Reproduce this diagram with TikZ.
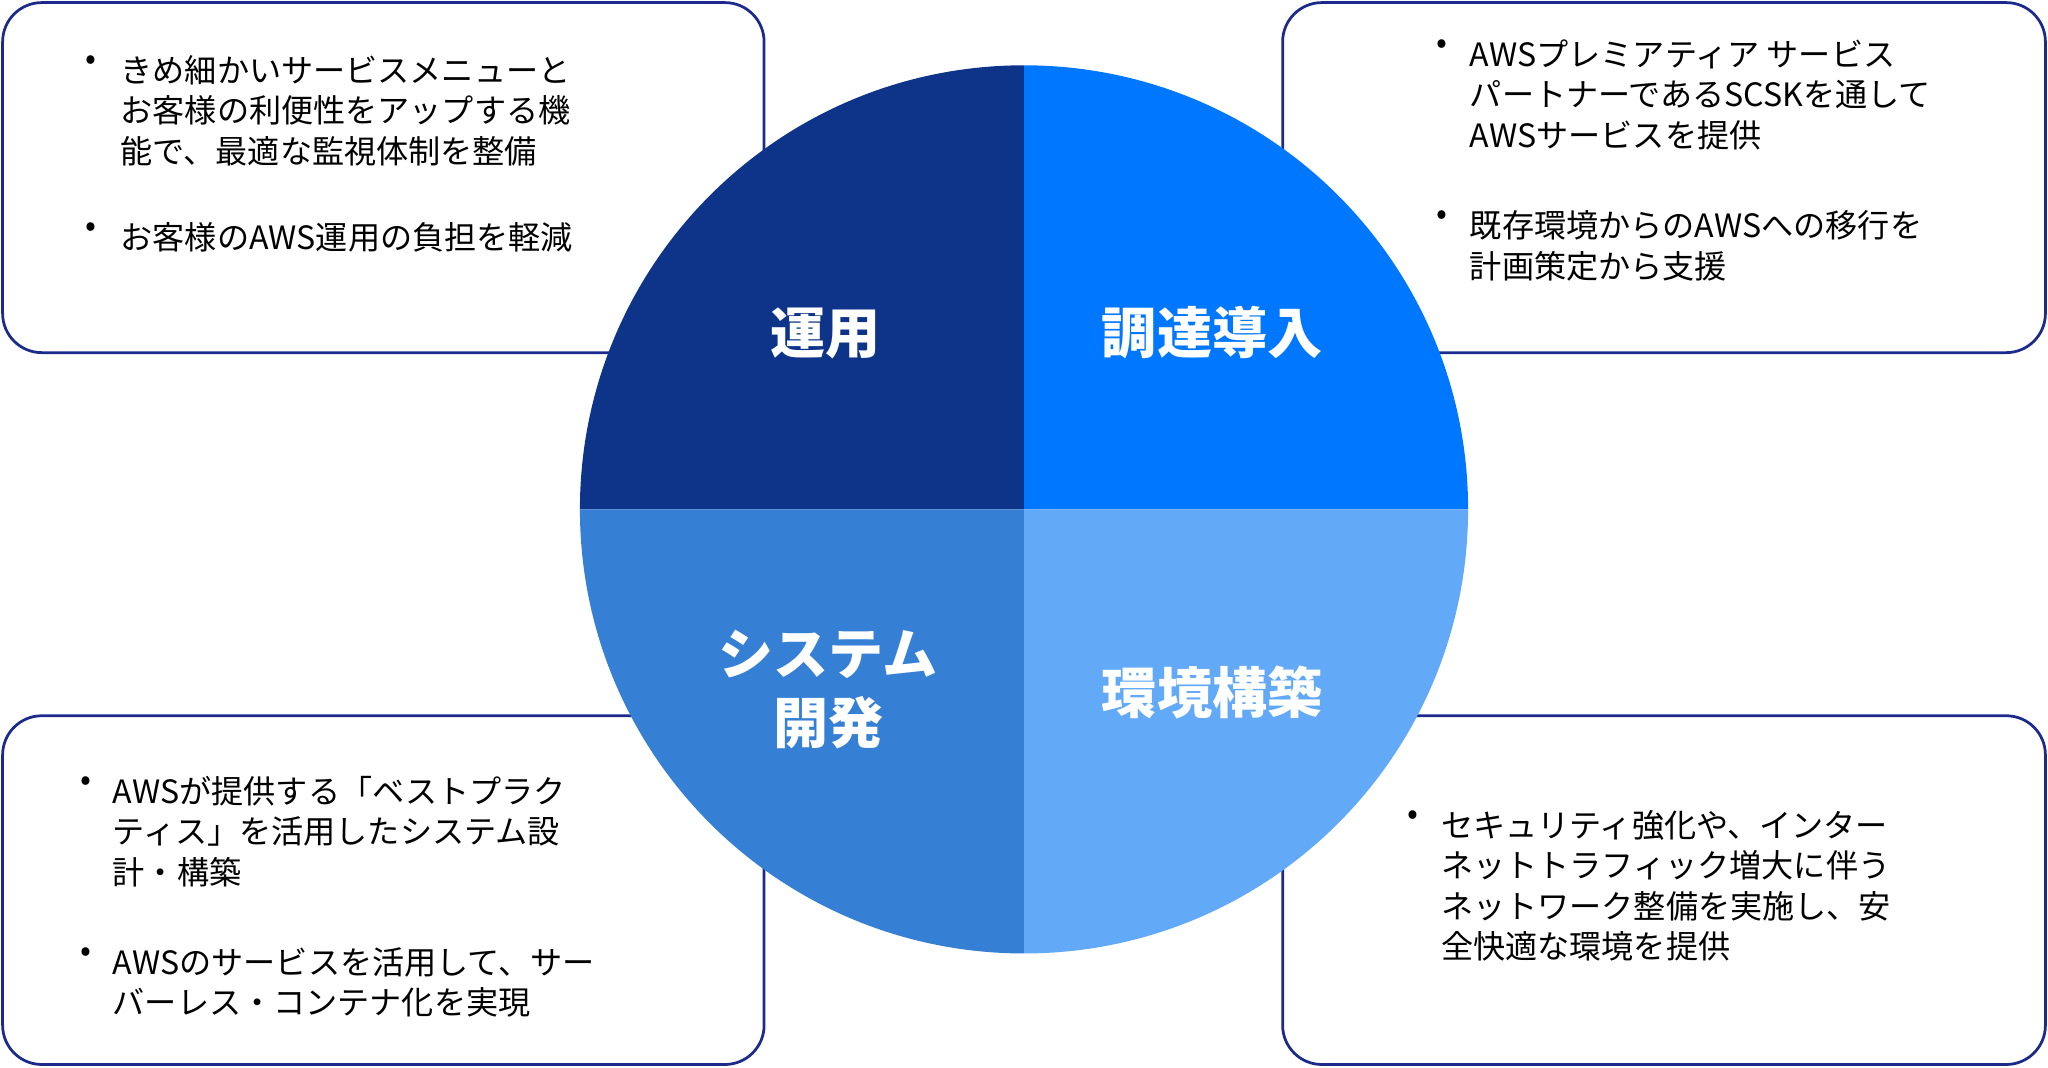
\documentclass[tikz,border=0pt]{standalone}
\usepackage{fontspec}
\setmainfont{Noto Sans CJK JP}
\usetikzlibrary{positioning}
\definecolor{CNavy}{HTML}{1C2A8C}
\definecolor{CUnyo}{HTML}{0D3488}
\definecolor{CChotatsu}{HTML}{0077FF}
\definecolor{CSystem}{HTML}{3580D4}
\definecolor{CKankyo}{HTML}{62A9F7}
\tikzset{
    infobox/.style={draw=CNavy, line width=1.2pt, fill=white, rounded corners=0.6cm},
    item/.style={anchor=north west, align=left, inner sep=0pt, font=\fontsize{14}{17.6}\selectfont},
    dot/.style={anchor=north, inner sep=0pt, font=\fontsize{14}{17.6}\selectfont},
    quad/.style={text=white, font=\fontsize{24}{30}\selectfont\bfseries, align=center}
}
\begin{document}
\begin{tikzpicture}
    \useasboundingbox (0,0) rectangle (31.36,16.34);
    % Boxes
    \draw[infobox] (0.04,10.94) rectangle (11.70,16.30);
    \draw[infobox] (19.64,10.94) rectangle (31.32,16.30);
    \draw[infobox] (0.04,0.04) rectangle (11.70,5.38);
    \draw[infobox] (19.64,0.04) rectangle (31.32,5.38);

    % Circle quadrants
    \coordinate (c) at (15.68,8.54);
    \fill[CUnyo] (c) -- ++(-6.8,0) arc (180:90:6.8) -- cycle;
    \fill[CChotatsu] (c) -- ++(0,6.8) arc (90:0:6.8) -- cycle;
    \fill[CSystem] (c) -- ++(0,-6.8) arc (270:180:6.8) -- cycle;
    \fill[CKankyo] (c) -- ++(6.8,0) arc (0:-90:6.8) -- cycle;

    \node[quad] (unyo) at (12.64,11.24) {運用};
    \node[quad] (chotatsu) at (18.56,11.24) {調達導入};
    \node[quad] (system) at (12.68,5.78) {システム\\開発};
    \node[quad] (kankyo) at (18.56,5.74) {環境構築};

    % Top left
    \node[item] (tl1) at (1.84,15.50) {きめ細かいサービスメニューと\\お客様の利便性をアップする機\\能で、最適な監視体制を整備};
    \node[dot] at (1.40,15.50) {•};
    \node[item] (tl2) at (1.84,12.94) {お客様のAWS運用の負担を軽減};
    \node[dot] at (1.40,12.94) {•};

    % Top right
    \node[item] (tr1) at (22.50,15.74) {AWSプレミアティア サービス\\パートナーであるSCSKを通して\\AWSサービスを提供};
    \node[dot] at (22.08,15.74) {•};
    \node[item] (tr2) at (22.50,13.12) {既存環境からのAWSへの移行を\\計画策定から支援};
    \node[dot] at (22.08,13.12) {•};

    % Bottom left
    \node[item] (bl1) at (1.72,4.46) {AWSが提供する「ベストプラク\\ティス」を活用したシステム設\\計・構築};
    \node[dot] at (1.32,4.46) {•};
    \node[item] (bl2) at (1.72,1.84) {AWSのサービスを活用して、サー\\バーレス・コンテナ化を実現};
    \node[dot] at (1.32,1.84) {•};

    % Bottom right
    \node[item] (br1) at (22.06,3.94) {セキュリティ強化や、インター\\ネットトラフィック増大に伴う\\ネットワーク整備を実施し、安\\全快適な環境を提供};
    \node[dot] at (21.64,3.94) {•};
\end{tikzpicture}
\end{document}
